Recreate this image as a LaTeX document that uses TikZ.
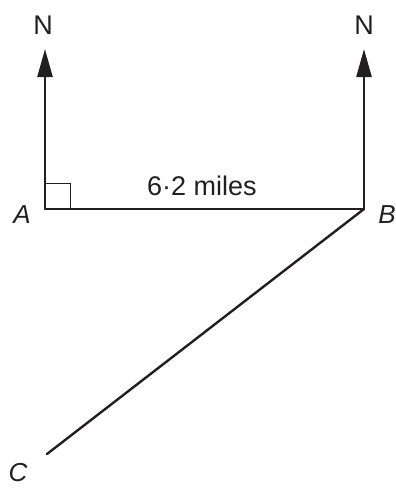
\documentclass[tikz,border=0pt]{standalone}
\usepackage{fontspec}
\setmainfont{Liberation Sans}
\definecolor{Ink}{HTML}{231F20}
\usetikzlibrary{positioning, arrows.meta}

\begin{document}
\begin{tikzpicture}[
  x=1pt, y=-1pt,
  leg/.style={line width=2.4pt, draw=Ink, line cap=round},
  bearing/.style={line width=2.4pt, draw=Ink,
    -{Triangle[length=28pt, width=15pt]}},
  corner/.style={line width=0.9pt, draw=Ink},
  lbl/.style={font=\fontsize{27}{30}\selectfont, text=Ink, inner sep=0pt},
  pt/.style={lbl, font=\fontsize{26}{30}\selectfont\itshape}
]
  \useasboundingbox (0,0) rectangle (396,488);

  % points
  \coordinate (A) at (45,209);
  \coordinate (B) at (364,209);
  \coordinate (C) at (47,454);
  \coordinate (nA) at (45,49);
  \coordinate (nB) at (364,49);

  % north lines
  \draw[bearing] (A) -- (nA);
  \draw[bearing] (B) -- (nB);

  % legs
  \draw[leg] (A) -- (B);
  \draw[leg] (B) -- (C);

  % right angle at A
  \draw[corner] (A) ++(0,-26) -| ++(25,26);

  % labels
  \node[lbl] (labNA) at (43,25) {N};
  \node[lbl] (labNB) at (364,25) {N};
  \node[pt] (labA) at (22,215) {A};
  \node[pt] (labB) at (387,215) {B};
  \node[pt] (labC) at (18,473) {C};
  \node[lbl] (dist) at (202,186) {6·2 miles};
\end{tikzpicture}
\end{document}
